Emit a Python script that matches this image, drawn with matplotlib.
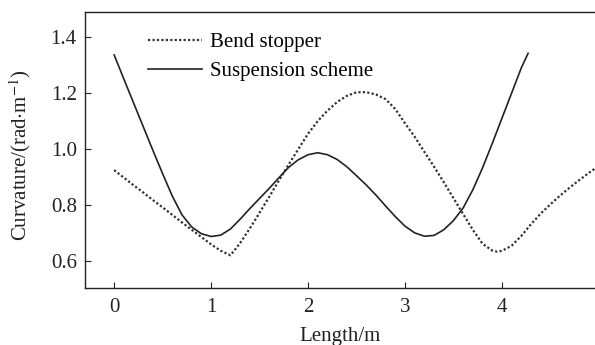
import numpy as np
import matplotlib.pyplot as plt

plt.rcParams['font.family'] = 'Liberation Serif'
plt.rcParams['mathtext.fontset'] = 'stix'

# Suspension scheme (solid)
x_susp = [0.0, 0.1, 0.2, 0.3, 0.4, 0.5, 0.6, 0.7, 0.8, 0.9, 1.0, 1.1, 1.2, 1.3,
          1.4, 1.5, 1.6, 1.7, 1.8, 1.9, 2.0, 2.1, 2.2, 2.3, 2.4, 2.5, 2.6, 2.7,
          2.8, 2.9, 3.0, 3.1, 3.2, 3.3, 3.4, 3.5, 3.6, 3.7, 3.8, 3.9, 4.0, 4.1,
          4.2, 4.27]
y_susp = [1.336, 1.25, 1.165, 1.08, 0.995, 0.912, 0.832, 0.765, 0.722, 0.698,
          0.688, 0.693, 0.715, 0.75, 0.788, 0.824, 0.86, 0.898, 0.935, 0.962,
          0.98, 0.987, 0.98, 0.963, 0.937, 0.905, 0.872, 0.836, 0.797, 0.759,
          0.725, 0.701, 0.689, 0.692, 0.712, 0.745, 0.79, 0.855, 0.933, 1.02,
          1.11, 1.2, 1.29, 1.342]

# Bend stopper (dotted)
x_bend = [0.0, 0.1, 0.2, 0.3, 0.4, 0.5, 0.6, 0.7, 0.8, 0.9, 1.0, 1.1, 1.2, 1.3,
          1.4, 1.5, 1.6, 1.7, 1.8, 1.9, 2.0, 2.1, 2.2, 2.3, 2.4, 2.5, 2.6, 2.7,
          2.8, 2.9, 3.0, 3.1, 3.2, 3.3, 3.4, 3.5, 3.6, 3.7, 3.8, 3.9, 3.95, 4.0,
          4.1, 4.2, 4.3, 4.4, 4.5, 4.6, 4.7, 4.8, 4.9, 5.0]
y_bend = [0.925, 0.898, 0.871, 0.845, 0.818, 0.792, 0.765, 0.738, 0.712, 0.686,
          0.66, 0.637, 0.621, 0.665, 0.717, 0.773, 0.83, 0.888, 0.945, 1.0,
          1.055, 1.1, 1.137, 1.168, 1.19, 1.203, 1.203, 1.195, 1.178, 1.143,
          1.092, 1.044, 0.99, 0.937, 0.882, 0.825, 0.768, 0.712, 0.662, 0.638,
          0.634, 0.637, 0.655, 0.69, 0.732, 0.77, 0.803, 0.834, 0.863, 0.89,
          0.916, 0.94]

xticks = [0, 1, 2, 3, 4]
yticks = [0.6, 0.8, 1.0, 1.2, 1.4]

fig = plt.figure(figsize=(5.95, 3.45), dpi=100)
ax = fig.add_axes([0.143, 0.165, 0.857, 0.8])

ax.plot(x_bend, y_bend, color='#333333', lw=1.6, linestyle=(0, (1, 1)),
        label='Bend stopper')
ax.plot(x_susp, y_susp, color='#222222', lw=1.2, label='Suspension scheme')

ax.set_xlim(-0.3, 4.96)
ax.set_ylim(0.504, 1.489)
ax.set_xticks(xticks)
ax.set_yticks(yticks)
ax.set_yticklabels([f'{v:.1f}' for v in yticks])
ax.tick_params(direction='in', length=4, width=0.8, labelsize=15, colors='#222222')
ax.tick_params(axis='x', pad=7)
ax.tick_params(axis='y', pad=6)
ax.spines['right'].set_visible(False)
for s in ['left', 'bottom', 'top']:
    ax.spines[s].set_linewidth(1.0)
    ax.spines[s].set_color('#222222')

ax.set_xlabel('Length/m', fontsize=15, color='#222222', labelpad=7)
ax.set_ylabel(r'Curvature/(rad$\cdot$m$^{-1}$)', fontsize=15, color='#222222')
ax.yaxis.set_label_coords(-0.102, 0.482)

ax.legend(loc='upper left', bbox_to_anchor=(0.09, 0.985), frameon=False, fontsize=15,
          handlelength=2.6, handletextpad=0.4, labelspacing=0.45, borderpad=0.3)

fig.savefig('out.png', dpi=100)
